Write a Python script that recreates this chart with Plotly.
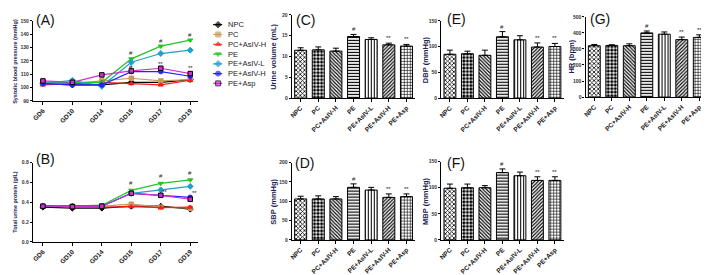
import plotly.graph_objects as go

W, H = 709, 275

# ---------------- data ----------------
groups = ["NPC", "PC", "PC+AsIV-H", "PE", "PE+AsIV-L", "PE+AsIV-H", "PE+Asp"]
days = ["GD6", "GD10", "GD14", "GD15", "GD17", "GD19"]

sbp_time = {
    "NPC":       [103, 102, 102, 104, 104, 106],
    "PC":        [104, 103, 105, 107, 105, 106],
    "PC+AsIV-H": [102, 103, 104, 103, 102, 105.5],
    "PE":        [104, 104, 104, 121.5, 131, 135.5],
    "PE+AsIV-L": [103, 105.5, 101, 119, 125.5, 128],
    "PE+AsIV-H": [103, 102, 102, 112, 112, 108.5],
    "PE+Asp":    [105, 104, 109.5, 112.5, 114.5, 110.5],
}
protein_time = {
    "NPC":       [0.35, 0.34, 0.34, 0.36, 0.36, 0.33],
    "PC":        [0.36, 0.36, 0.36, 0.38, 0.35, 0.34],
    "PC+AsIV-H": [0.36, 0.35, 0.35, 0.355, 0.345, 0.35],
    "PE":        [0.36, 0.36, 0.37, 0.52, 0.59, 0.625],
    "PE+AsIV-L": [0.36, 0.36, 0.36, 0.49, 0.525, 0.56],
    "PE+AsIV-H": [0.36, 0.36, 0.36, 0.49, 0.47, 0.45],
    "PE+Asp":    [0.36, 0.355, 0.36, 0.49, 0.47, 0.43],
}

urine_vol = [11.5, 11.6, 11.3, 14.8, 14.1, 12.8, 12.5]
urine_err = [0.6, 0.7, 0.7, 0.5, 0.4, 0.4, 0.4]
sbp = [106, 106, 106, 136, 129, 110, 112]
sbp_err = [7, 8, 6, 9, 7, 9, 7]
dbp = [85, 86, 83, 119, 113, 99, 100]
dbp_err = [8, 5, 10, 10, 8, 8, 6]
mbp = [99, 100, 100, 129, 123, 114, 114]
mbp_err = [8, 7, 4, 7, 7, 7, 7]
hr = [320, 322, 320, 400, 392, 358, 372]
hr_err = [8, 4, 12, 12, 14, 16, 16]

bar_sig = ["", "", "", "#", "", "**", "**"]

sbp_sig = [("GD15", 126, "#"), ("GD17", 135, "#"), ("GD19", 139.5, "#"),
           ("GD15", 115.5, "#"), ("GD17", 118, "**"), ("GD19", 114.5, "**")]
prot_sig = [("GD15", 0.59, "#"), ("GD17", 0.66, "#"), ("GD19", 0.695, "#"),
            ("GD17", 0.50, "**"), ("GD19", 0.49, "**")]

# ---------------- styles ----------------
colors = {"NPC": "#000000", "PC": "#c89a5a", "PC+AsIV-H": "#ff1a1a", "PE": "#22c522",
          "PE+AsIV-L": "#1fa0c8", "PE+AsIV-H": "#2323ff", "PE+Asp": "#d030d0"}
symbols = {"NPC": "diamond", "PC": "square", "PC+AsIV-H": "triangle-up", "PE": "triangle-down",
           "PE+AsIV-L": "diamond", "PE+AsIV-H": "circle", "PE+Asp": "square"}
patterns = [dict(shape="x", size=3, solidity=0.45),
            dict(shape=".", size=3.5, solidity=0.6),
            dict(shape="\\", size=2.5, solidity=0.45),
            dict(shape="-", size=3, solidity=0.4),
            dict(shape="|", size=3, solidity=0.35),
            dict(shape="/", size=2.5, solidity=0.45),
            dict(shape="+", size=3, solidity=0.35)]

FONT = "Liberation Sans, Arial, sans-serif"
NAVY = "#1b2452"
TXT = "#222222"


def fx(px):
    return px / W


def fy(py):
    return 1 - py / H


fig = go.Figure()

# axis geometry (pixel boxes: left, right, bottom, top)
boxes = {
    1: (22, 188, 92, 10),
    2: (22, 188, 236, 155),
    3: (282, 406, 89, 4),
    4: (282, 406, 234, 155),
    5: (432, 555, 89, 10),
    6: (432, 555, 234, 154),
    7: (577, 700, 88, 6),
    8: (200, 262, 80, 8),
}


def ax_names(i):
    return ("x" if i == 1 else f"x{i}"), ("y" if i == 1 else f"y{i}")


# ---------- line panels ----------
for i, data in ((1, sbp_time), (2, protein_time)):
    xa, ya = ax_names(i)
    for g in groups:
        fig.add_trace(go.Scatter(
            x=days, y=data[g], mode="lines+markers", xaxis=xa, yaxis=ya,
            line=dict(color=colors[g], width=1.2),
            marker=dict(symbol=symbols[g], size=4.5, color=colors[g],
                        line=dict(color="black" if g == "PE+Asp" else colors[g], width=1)),
            showlegend=False, name=g))

annotations = []
for d, v, t in sbp_sig:
    annotations.append(dict(x=d, y=v, text=t, xref="x", yref="y", showarrow=False,
                            font=dict(size=6, family=FONT, color=TXT)))
for d, v, t in prot_sig:
    annotations.append(dict(x=d, y=v, text=t, xref="x2", yref="y2", showarrow=False,
                            xshift=4 if t == "**" else 0,
                            font=dict(size=6, family=FONT, color=TXT)))

# ---------- bar panels ----------
bar_sets = [(3, urine_vol, urine_err), (4, sbp, sbp_err), (5, dbp, dbp_err),
            (6, mbp, mbp_err), (7, hr, hr_err)]
for i, vals, errs in bar_sets:
    xa, ya = ax_names(i)
    fig.add_trace(go.Bar(
        x=groups, y=vals, xaxis=xa, yaxis=ya, width=0.68,
        marker=dict(color="white", line=dict(color="black", width=1),
                    pattern=dict(shape=[p["shape"] for p in patterns],
                                 size=[p["size"] for p in patterns],
                                 solidity=[p["solidity"] for p in patterns],
                                 fgcolor="black", bgcolor="white", fillmode="replace")),
        error_y=dict(type="data", symmetric=False, array=errs, arrayminus=[0] * len(errs),
                     color="black", thickness=1, width=3),
        showlegend=False))
    for g, v, e, s in zip(groups, vals, errs, bar_sig):
        if s:
            annotations.append(dict(x=g, y=v + e, text=s, xref=xa, yref=ya, showarrow=False,
                                    yanchor="bottom", yshift=0,
                                    font=dict(size=6, family=FONT, color=TXT)))

# ---------- legend (drawn on its own axis) ----------
for k, g in enumerate(groups):
    fig.add_trace(go.Scatter(
        x=[3, 8, 12], y=[k, k, k], mode="lines+markers", xaxis="x8", yaxis="y8",
        line=dict(color=colors[g], width=1.2),
        marker=dict(symbol=symbols[g], size=[0, 5, 0], color=colors[g],
                    line=dict(color="black" if g == "PE+Asp" else colors[g], width=1)),
        showlegend=False, hoverinfo="skip"))
    annotations.append(dict(x=16, y=k, text=g, xref="x8", yref="y8", showarrow=False,
                            xanchor="left", font=dict(size=7.5, family=FONT, color=TXT)))

# ---------- axes ----------
layout_axes = {}
for i, (x0, x1, yb, yt) in boxes.items():
    xa, ya = ax_names(i)
    xkey = "xaxis" if i == 1 else f"xaxis{i}"
    ykey = "yaxis" if i == 1 else f"yaxis{i}"
    if i == 8:
        layout_axes[xkey] = dict(domain=[fx(x0), fx(x1)], range=[0, x1 - x0], visible=False,
                                 anchor=ya)
        layout_axes[ykey] = dict(domain=[fy(yb), fy(yt)], range=[6.6, -0.6], visible=False,
                                 anchor=xa)
        continue
    common_x = dict(domain=[fx(x0), fx(x1)], anchor=ya, showline=True, linecolor="black",
                    linewidth=1.3, ticks="outside", ticklen=2.5, tickwidth=1, tickcolor="black",
                    showgrid=False, zeroline=False, tickangle=-45)
    common_y = dict(domain=[fy(yb), fy(yt)], anchor=xa, showline=True, linecolor="black",
                    linewidth=1.3, ticks="outside", ticklen=2, tickwidth=1, tickcolor="black",
                    showgrid=False, zeroline=False, ticklabeloverflow="allow",
                    ticklabelstandoff=0,
                    tickfont=dict(size=5, family=FONT, color="#333", weight="bold"))
    if i in (1, 2):
        common_x.update(range=[-0.34, 5.27],
                        tickfont=dict(size=6.5, family=FONT, color=TXT, weight="bold"))
    else:
        common_x.update(range=[-0.5, 6.5],
                        tickfont=dict(size=6.5, family=FONT, color=TXT, weight="bold"))
    layout_axes[xkey] = common_x
    layout_axes[ykey] = common_y

layout_axes["yaxis"].update(range=[90, 150], dtick=10)
layout_axes["yaxis2"].update(range=[0, 0.8], dtick=0.2, tickformat=".1f")
layout_axes["yaxis3"].update(range=[0, 20], dtick=5)
layout_axes["yaxis4"].update(range=[0, 200], dtick=50)
layout_axes["yaxis5"].update(range=[0, 150], dtick=50)
layout_axes["yaxis6"].update(range=[0, 150], dtick=50)
layout_axes["yaxis7"].update(range=[0, 500], dtick=100)

# ---------- titles / panel labels ----------
ytitles = [("Systolic blood pressure (mmHg)", 4, 51, 5.5),
           ("Total urine protein (g/L)", 4, 195, 5.5),
           ("Urine volume (mL)", 264, 47, 7.5),
           ("SBP (mmHg)", 264, 195, 7.5),
           ("DBP (mmHg)", 417, 50, 7.5),
           ("MBP (mmHg)", 417, 195, 7.5),
           ("HR (bpm)", 563, 47, 7.5)]
for t, px, py, sz in ytitles:
    annotations.append(dict(x=fx(px), y=fy(py), xref="paper", yref="paper", text=t,
                            textangle=-90, showarrow=False, xanchor="center", yanchor="middle",
                            font=dict(size=sz, family=FONT, color=NAVY, weight="bold")))

panel_labels = [("(A)", 35, 9), ("(B)", 35, 151), ("(C)", 296, 9), ("(D)", 295, 155),
                ("(E)", 447, 8), ("(F)", 447, 155), ("(G)", 592, 8)]
for t, px, py in panel_labels:
    annotations.append(dict(x=fx(px), y=fy(py), xref="paper", yref="paper", text=t,
                            showarrow=False, xanchor="center", yanchor="middle",
                            font=dict(size=14, family=FONT, color="#111")))

fig.update_layout(width=W, height=H, margin=dict(l=0, r=0, t=0, b=0),
                  paper_bgcolor="white", plot_bgcolor="white", showlegend=False,
                  annotations=annotations, bargap=0.3, **layout_axes)

fig.write_html("out.html")
